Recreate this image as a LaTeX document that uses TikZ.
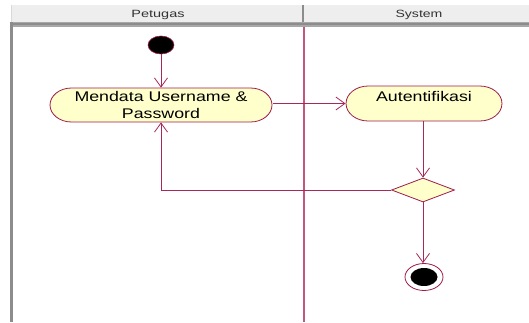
\documentclass[tikz,border=0pt]{standalone}
\usepackage{fontspec}
\setmainfont{Liberation Sans}
\usetikzlibrary{shapes.misc,shapes.geometric,arrows.meta}
\definecolor{hdrfill}{HTML}{EEEEEE}
\definecolor{hdrline}{HTML}{8C8C8C}
\definecolor{hdrlight}{HTML}{A8A8A8}
\definecolor{laneline}{HTML}{C4557E}
\definecolor{nodeborder}{HTML}{9E1B4A}
\definecolor{flowline}{HTML}{A8285A}
\definecolor{actfill}{HTML}{FFFFCC}
\begin{document}
\begin{tikzpicture}[x=1pt,y=-1pt,
  act/.style={rounded rectangle, draw=nodeborder, fill=actfill, line width=0.8pt,
    inner sep=0pt, align=center, transform shape,
    font=\fontsize{14pt}{16.6pt}\selectfont},
  hdr/.style={inner sep=0pt, transform shape, text=black!80,
    font=\fontsize{10.5pt}{12pt}\selectfont},
  flow/.style={draw=flowline, line width=0.8pt, -{Straight Barb[length=9pt,width=13pt]}},
  decision/.style={diamond, draw=nodeborder, fill=actfill, line width=0.8pt,
    inner sep=0pt, minimum width=63pt, minimum height=24pt, shape aspect=2.6},
  initial/.style={ellipse, fill=black, draw=nodeborder, line width=0.6pt,
    inner sep=0pt, minimum width=26pt, minimum height=18pt},
  finalring/.style={ellipse, fill=white, draw=nodeborder, line width=0.8pt,
    inner sep=0pt, minimum width=38pt, minimum height=27pt},
  finaldot/.style={ellipse, fill=black, inner sep=0pt,
    minimum width=27pt, minimum height=18pt}]
\useasboundingbox (0,0) rectangle (529,322);

% swimlane header band
\fill[hdrfill] (11,5) rectangle (529,22);
\fill[hdrlight] (11,22) rectangle (529,26.5);
\fill[hdrline] (11,22.5) rectangle (529,24.5);
\draw[hdrline, line width=2.5pt] (11.3,22) -- (11.3,322);
\draw[hdrline, line width=2.2pt] (303.3,5) -- (303.3,22);
\draw[white!85!black, line width=0.6pt] (11,5) -- (11,22);
% lane divider
\draw[laneline, line width=2pt] (303.7,26.5) -- (303.7,322);

% lane titles
\begin{scope}[shift={(158,14.5)}, xscale=1.38]
  \node[hdr] (lanePetugas) at (0,0) {Petugas};
\end{scope}
\begin{scope}[shift={(419,14.5)}, xscale=1.34]
  \node[hdr] (laneSystem) at (0,0) {System};
\end{scope}

% activities
\begin{scope}[shift={(161,105)}, xscale=1.27]
  \node[act, minimum width=174.8pt, minimum height=34pt] (a1) at (0,0)
        {Mendata Username \&\\Password};
\end{scope}
\begin{scope}[shift={(424,103.5)}, xscale=1.27]
  \node[act, minimum width=122.8pt, minimum height=35pt,
        text height=10pt, text depth=13.6pt] (a2) at (0,0) {Autentifikasi};
\end{scope}

% start, decision and end
\node[initial] (start) at (161,45) {};
\node[decision] (dec) at (423,190) {};
\node[finalring] (fin) at (424,277) {};
\node[finaldot] (findot) at (fin.center) {};

% flows
\draw[flow] (start) -- (a1.north);
\draw[flow] (a1.east |- a2.west) -- (a2.west);
\draw[flow] (a2.south -| dec.north) -- (dec.north);
\draw[flow] (dec.west) -- (dec.west -| a1.south) -- (a1.south);
\draw[flow] (dec.south) -- (dec.south |- fin.north);
\end{tikzpicture}
\end{document}
